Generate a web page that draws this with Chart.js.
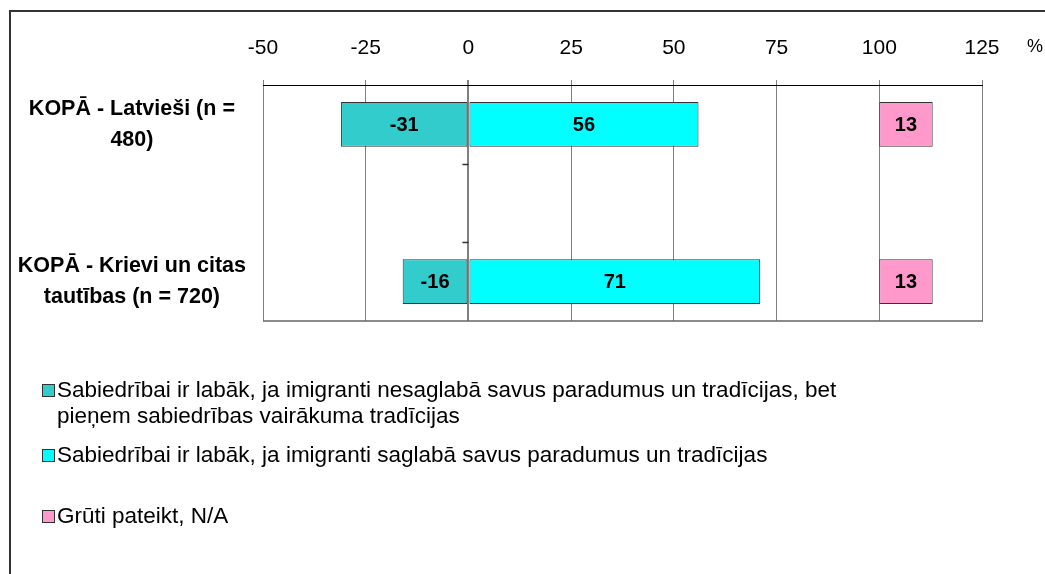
<!DOCTYPE html>
<html>
<head>
<meta charset="utf-8">
<script src="https://cdn.jsdelivr.net/npm/chart.js@4.4.1/dist/chart.umd.min.js"></script>
<style>
  html, body { margin: 0; padding: 0; background: #fff; width: 1045px; height: 574px; overflow: hidden;
    font-family: "Liberation Sans", Arial, sans-serif; }
  #wrap { position: relative; width: 1045px; height: 574px; }
  #ramecek { position: absolute; left: 9px; top: 10px; width: 1100px; height: 700px;
    border-left: 2px solid #333; border-top: 2px solid #333; }
  canvas { position: absolute; left: 0; top: 0; }
  #pct { position: absolute; left: 1027px; top: 36px; font-size: 18px; color: #000; }
  .item { position: absolute; left: 42px; font-size: 22.5px; line-height: 26px; color: #000;
    white-space: nowrap; padding-left: 15px; }
  .sw { position: absolute; left: 0; top: 7px; width: 11px; height: 11px; border: 1px solid #333; }
</style>
</head>
<body>
<div id="wrap">
  <div id="ramecek"></div>
  <canvas id="graf" width="1045" height="574"></canvas>
  <div id="pct">%</div>
  <div id="legenda"></div>
</div>
<script>
// kategorie (prostřední je prázdná mezera jako v originále)
const KATEGORIE = [["KOPĀ - Latvieši (n =", "480)"], "", ["KOPĀ - Krievi un citas", "tautības (n = 720)"]];

// hodnoty v %
const NESAGLABA = [-31, null, -16];
const SAGLABA   = [56, null, 71];
const GRUTI     = [13, null, 13];
const GRUTI_OD  = 100;   // "Grūti pateikt" je vynesené od 100 %

const X_TICKS = [-50, -25, 0, 25, 50, 75, 100, 125];

const NAZVY = [
  "Sabiedrībai ir labāk, ja imigranti nesaglabā savus paradumus un tradīcijas, bet<br>pieņem sabiedrības vairākuma tradīcijas",
  "Sabiedrībai ir labāk, ja imigranti saglabā savus paradumus un tradīcijas",
  "Grūti pateikt, N/A",
];
const BARVY = ["#33CCCC", "#00FFFF", "#FF99CC"];
const FONT = '"Liberation Sans", Arial, sans-serif';

// ------- popisky hodnot uprostřed sloupců -------------------------------
const popisky = {
  id: "popisky",
  afterDatasetsDraw(chart) {
    const ctx = chart.ctx;
    ctx.save();
    ctx.font = "bold 20px " + FONT;
    ctx.fillStyle = "#000";
    ctx.textAlign = "center";
    ctx.textBaseline = "middle";
    chart.data.datasets.forEach((ds, i) => {
      chart.getDatasetMeta(i).data.forEach((bar, j) => {
        const v = ds.popisky[j];
        if (v == null) return;
        ctx.fillText(String(v), (bar.x + bar.base) / 2, bar.y + 1);
      });
    });
    ctx.restore();
  },
};

// ------- spodní okraj plochy + značky na nulové ose ----------------------
const osa = {
  id: "osa",
  afterDatasetsDraw(chart) {
    const { ctx, chartArea: a, scales: { x, y } } = chart;
    ctx.save();
    ctx.strokeStyle = "#666";
    ctx.lineWidth = 1.5;
    ctx.beginPath();
    ctx.moveTo(a.left, a.bottom);
    ctx.lineTo(a.right + 1, a.bottom);
    ctx.stroke();
    const x0 = x.getPixelForValue(0);
    ctx.strokeStyle = "#333";
    ctx.lineWidth = 1.5;
    for (let i = 0; i < KATEGORIE.length - 1; i++) {
      const yb = Math.round((y.getPixelForValue(i) + y.getPixelForValue(i + 1)) / 2) + 0.5;
      ctx.beginPath();
      ctx.moveTo(x0 - 6, yb);
      ctx.lineTo(x0, yb);
      ctx.stroke();
    }
    ctx.restore();
  },
};

const spolecne = { grouped: false, borderColor: "#333", borderWidth: 1, borderSkipped: false,
  categoryPercentage: 1, barPercentage: 0.57 };

new Chart(document.getElementById("graf"), {
  type: "bar",
  data: {
    labels: KATEGORIE,
    datasets: [
      { ...spolecne, label: "nesaglabā", data: NESAGLABA, backgroundColor: BARVY[0], popisky: NESAGLABA },
      { ...spolecne, label: "saglabā", data: SAGLABA, backgroundColor: BARVY[1], popisky: SAGLABA },
      { ...spolecne, label: "grūti", backgroundColor: BARVY[2], popisky: GRUTI,
        data: GRUTI.map(v => v == null ? null : [GRUTI_OD, GRUTI_OD + v]) },
    ],
  },
  options: {
    indexAxis: "y",
    responsive: false,
    animation: false,
    devicePixelRatio: 1,
    layout: { padding: { top: 0, right: 63, bottom: 253, left: 0 } },
    plugins: { legend: { display: false }, tooltip: { enabled: false } },
    scales: {
      x: {
        type: "linear", position: "top", min: -50, max: 125,
        afterBuildTicks: s => { s.ticks = X_TICKS.map(v => ({ value: v })); },
        afterFit: s => { s.height = 85; },
        ticks: { padding: 19, color: "#000", font: { size: 21, family: FONT } },
        grid: { color: "#808080", lineWidth: c => (c.tick && c.tick.value === 0 ? 2 : 1),
          tickLength: 5, tickColor: "#808080" },
        border: { display: true, color: "#000", width: 1 },
      },
      y: {
        type: "category", offset: true,
        afterFit: s => { s.width = 263; },
        grid: { drawOnChartArea: false, drawTicks: false },
        border: { display: false },
        ticks: { crossAlign: "center", padding: 17, color: "#000",
          font: { size: 21.5, weight: "bold", lineHeight: 1.45, family: FONT } },
      },
    },
  },
  plugins: [popisky, osa],
});

// ------- legenda ---------------------------------------------------------
const TOPY = [377, 442, 503];
document.getElementById("legenda").innerHTML = NAZVY.map((n, i) =>
  `<div class="item" style="top:${TOPY[i]}px"><span class="sw" style="background:${BARVY[i]}"></span>${n}</div>`
).join("");
</script>
</body>
</html>
